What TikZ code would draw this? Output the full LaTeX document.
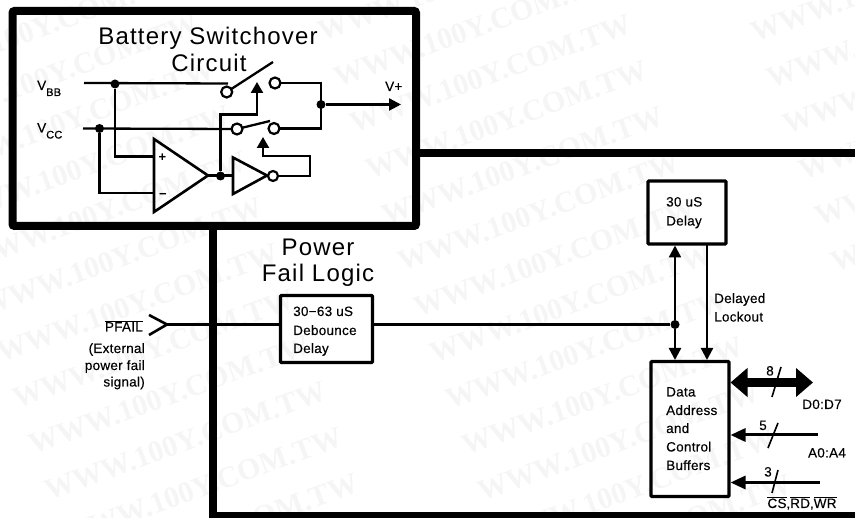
\documentclass[tikz,border=0pt]{standalone}
\usepackage{fontspec}
\setmainfont{Liberation Sans}
\newfontfamily\wmfont{Liberation Serif}[BoldFont={Liberation Serif Bold}]
\newfontfamily\lblfont{Liberation Sans}[LetterSpace=2,FakeBold=0.25]
\newfontfamily\ttlfont{Liberation Sans}[LetterSpace=5]
\usetikzlibrary{arrows.meta,calc}
\newcommand{\ovl}[1]{$\overline{\mbox{#1}}$}
\newcommand{\subs}[1]{\raisebox{-6pt}{\fontsize{11}{11}\selectfont #1}}
\tikzset{
  wire/.style={line width=2.3pt,line cap=butt,line join=miter},
  heavy/.style={line width=8pt,line join=miter},
  blockbox/.style={draw,line width=3.2pt,rounded corners=1pt,inner sep=0pt,outer sep=0pt,anchor=north west},
  tipa/.style={-{Triangle[length=12pt,width=12pt]}},
  tipc/.style={-{Triangle[length=11pt,width=12pt]}},
  tipi/.style={{Triangle[length=15pt,width=13pt]}-},
  bigtip/.style={{Triangle[length=17pt,width=28pt]}-{Triangle[length=17pt,width=28pt]}},
  junction/.style={circle,fill=black,inner sep=0pt,minimum size=9pt},
  contact/.style={circle,draw,line width=2.2pt,fill=white,inner sep=0pt,minimum size=11pt},
  lbl/.style={font=\lblfont\fontsize{13.5}{18}\selectfont,inner sep=0pt,anchor=base west},
  lble/.style={lbl,anchor=base east},
  lblc/.style={lbl,anchor=base},
  ttl/.style={font=\ttlfont\fontsize{24}{25}\selectfont,inner sep=0pt,anchor=base},
  wm/.style={font=\wmfont\bfseries\fontsize{30}{30}\selectfont,text=black!4,anchor=base west,rotate=20,inner sep=0pt},
  slash/.style={line width=1.6pt},
  symb/.style={line width=2.6pt,line join=miter},
}
\begin{document}
\begin{tikzpicture}[x=1pt,y=-1pt]
\useasboundingbox (0,0) rectangle (855,518);
\begin{scope}
\clip (0,0) rectangle (855,518);
\foreach \i in {-12,...,12}{\foreach \j in {-2,...,3}{
  \pgfmathsetmacro{\wx}{450+16*\i+401*\j}
  \pgfmathsetmacro{\wy}{410+46*\i-91*\j}
  \pgfmathparse{(\wx>-290 && \wx<850 && \wy>5 && \wy<640)?1:0}
  \ifnum\pgfmathresult=1
    \node[wm] (wm\i\j) at (\wx,\wy) {WWW.100Y.COM.TW};
  \fi
}}
\end{scope}

% heavy frame
\node[draw,line width=8pt,rounded corners=2pt,minimum width=403.5pt,minimum height=215pt,anchor=north west,inner sep=0pt,outer sep=0pt] (batt) at (12.5,11) {};
\coordinate (fR) at (855,153.5);
\coordinate (fB) at (212.5,516);
\coordinate (fBR) at (855,516);
\draw[heavy] (batt.east |- fR) -- (fR);
\draw[heavy] (batt.south -| fB) -- (fB) -- (fBR);

% titles
\node[ttl] (t1) at (208,45) {Battery Switchover};
\node[ttl] (t2) at (209,71.5) {Circuit};
\node[ttl] (t3) at (318,256) {Power};
\node[ttl] (t4) at (318,281.5) {Fail Logic};

% switchover circuit
\coordinate (vbbS) at (84,83);
\coordinate (vccS) at (83,128.5);
\node[lbl] (vbb) at (37,90) {V\subs{BB}};
\node[lbl] (vcc) at (37,132.5) {V\subs{CC}};
\node[lbl] (vp) at (385,91) {V+};
\node[junction] (jbb) at (115,84) {};
\node[junction] (jcc) at (99.5,128.5) {};
\node[junction] (jout) at (321,104.5) {};
\node[junction] (jop) at (220.5,176) {};
\coordinate (s1top) at (228,83.5);
\coordinate (s1end) at (273,62);
\coordinate (s2end) at (270,121);
\coordinate (vpE) at (401,104.5);
\coordinate (s1ac) at (226.7,92);
\coordinate (s1bc) at (275,83);
\coordinate (s2ac) at (237,129);
\coordinate (s2bc) at (274,128.5);
\draw[wire] (vbbS) -- (s1top);
\draw[wire] (s1ac) -- (s1end);
\draw[wire] (s2ac) -- (s2end);
\draw[wire] (vccS) -- (s2ac);
\draw[wire] (s1bc) -- (jout |- s1bc) -- (jout |- s2bc) -- (s2bc);
\draw[wire,tipa] (jout) -- (vpE);
\node[contact] (s1a) at (s1ac) {};
\node[contact] (s1b) at (s1bc) {};
\node[contact] (s2a) at (s2ac) {};
\node[contact] (s2b) at (s2bc) {};
% comparator
\coordinate (opT) at (154,139);
\coordinate (opB) at (154,212);
\coordinate (opO) at (208,175.5);
\coordinate (opP) at (154,156.5);
\coordinate (opM) at (154,193);
\draw[symb] (opT) -- (opO) -- (opB) -- cycle;
\node[font=\bfseries\fontsize{13}{13}\selectfont,inner sep=0pt] (plus) at (162.5,158) {+};
\node[font=\bfseries\fontsize{13}{13}\selectfont,inner sep=0pt] (minus) at (163,196) {\textminus};
\draw[wire] (jbb) -- (jbb |- opP) -- (opP);
\draw[wire] (jcc) -- (jcc |- opM) -- (opM);
% inverter
\coordinate (invT) at (233,157.5);
\coordinate (invB) at (233,194);
\coordinate (invO) at (267,175.5);
\draw[symb] (invT) -- (invO) -- (invB) -- cycle;
\node[contact,minimum size=10pt] (bub) at (273,176) {};
\draw[wire] (opO) -- (invT |- opO);
\coordinate (ctlA) at (257,82);
\coordinate (ctlAc) at (257,114.5);
\draw[wire,tipc] (jop) -- (jop |- ctlAc) -- (ctlAc) -- (ctlA);
\coordinate (ctlBr) at (310,176);
\coordinate (ctlBt) at (310,156);
\coordinate (ctlBc) at (263,156);
\coordinate (ctlBe) at (263,137);
\draw[wire,tipc] (bub) -- (ctlBr) -- (ctlBt) -- (ctlBc) -- (ctlBe);

% power fail logic
\node[blockbox,minimum width=92pt,minimum height=67pt] (deb) at (280.5,295.5) {};
\node[lbl] at (293,316) {30\textminus63 uS};
\node[lbl] at (293,335) {Debounce};
\node[lbl] at (293,353) {Delay};
\node[blockbox,minimum width=78pt,minimum height=63pt] (dly) at (648,181) {};
\node[lbl] at (666,206.5) {30 uS};
\node[lbl] at (666,225.5) {Delay};
\node[blockbox,minimum width=78pt,minimum height=135pt] (buf) at (651,361.5) {};
\node[lbl] at (666,396.5) {Data};
\node[lbl] at (666,415) {Address};
\node[lbl] at (666,433) {and};
\node[lbl] at (666,451.5) {Control};
\node[lbl] at (666,470) {Buffers};
\node[lbl] at (714,303) {Delayed};
\node[lbl] at (714,321.5) {Lockout};

% input
\coordinate (chT) at (149,315);
\coordinate (chM) at (167,324.5);
\coordinate (chB) at (149,335);
\draw[symb] (chT) -- (chM) -- (chB);
\node[lble] (pf) at (143,331.5) {\ovl{PFAIL}};
\node[lble] at (145,353) {(External};
\node[lble] at (145,370) {power fail};
\node[lble] at (145,386.5) {signal)};
\node[junction] (jl) at (675,324.5) {};
\draw[wire] (chM) -- (deb.west |- chM);
\draw[wire] (deb.east |- chM) -- (jl);
\coordinate (lx) at (707,300);
\draw[wire,tipa,shorten >=1.5pt] (jl) -- (jl |- dly.south);
\draw[wire,tipa,shorten >=1.5pt] (jl) -- (jl |- buf.north);
\draw[wire,tipa,shorten >=1.5pt] (lx |- dly.south) -- (lx |- buf.north);

% buses
\coordinate (dE) at (813,382.5);
\draw[line width=9pt,bigtip,shorten <=1.5pt] (buf.east |- dE) -- (dE);
\coordinate (aE) at (818,435);
\coordinate (cE) at (820,482.5);
\draw[line width=3pt,tipi,shorten <=1.5pt] (buf.east |- aE) -- (aE);
\draw[line width=3pt,tipi,shorten <=1.5pt] (buf.east |- cE) -- (cE);
\coordinate (sl1a) at (772,397); \coordinate (sl1b) at (781,367);
\coordinate (sl2a) at (768,448); \coordinate (sl2b) at (778,423);
\coordinate (sl3a) at (772,493); \coordinate (sl3b) at (778,470);
\draw[slash] (sl1a) -- (sl1b);
\draw[slash] (sl2a) -- (sl2b);
\draw[slash] (sl3a) -- (sl3b);
\node[lblc] (n8) at (770,375.5) {8};
\node[lblc] (n5) at (763,430) {5};
\node[lblc] (n3) at (768,476.5) {3};
\node[lblc] (d07) at (822,409) {D0:D7};
\node[lblc] (a04) at (827,457.5) {A0:A4};
\node[lblc] (csrd) at (802,508) {\ovl{CS},\ovl{RD},\ovl{WR}};
\end{tikzpicture}
\end{document}
